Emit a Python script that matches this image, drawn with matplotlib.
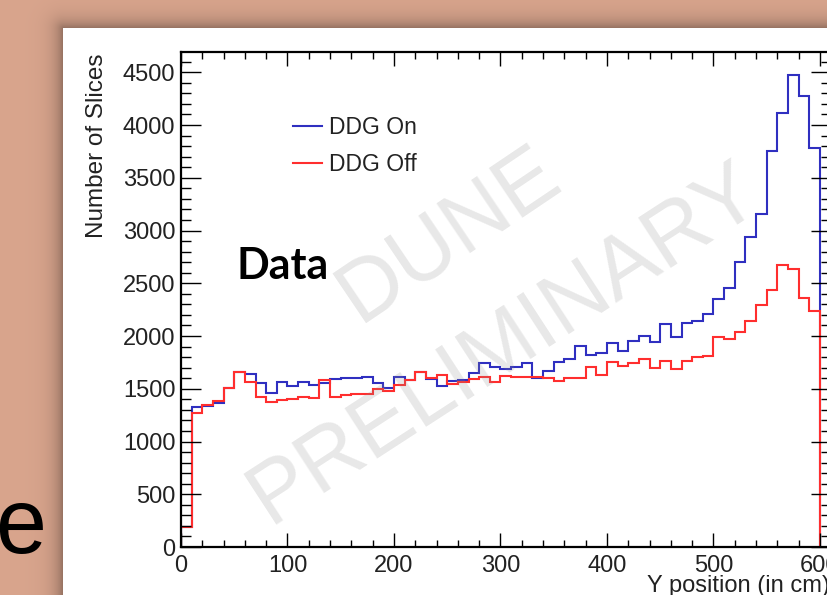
import numpy as np
import matplotlib
matplotlib.use("Agg")
import matplotlib.pyplot as plt
from matplotlib.ticker import MultipleLocator

# ---------------- data ----------------
bin_edges = np.arange(0, 601, 10)  # 60 bins of 10 cm

ddg_on = [190, 1330, 1340, 1362, 1504, 1656, 1637, 1558, 1463, 1567,
          1526, 1567, 1536, 1558, 1590, 1600, 1599, 1608, 1551, 1504,
          1608, 1583, 1662, 1593, 1526, 1574, 1583, 1653, 1747, 1709,
          1687, 1709, 1741, 1599, 1672, 1757, 1782, 1905, 1820, 1842,
          1931, 1858, 1956, 2000, 1940, 2114, 1988, 2120, 2142, 2209,
          2351, 2452, 2705, 2942, 3157, 3757, 4111, 4475, 4275, 3779]

ddg_off = [190, 1267, 1350, 1384, 1504, 1656, 1567, 1425, 1378, 1394,
           1403, 1425, 1410, 1583, 1419, 1440, 1450, 1450, 1495, 1480,
           1540, 1583, 1662, 1599, 1631, 1545, 1567, 1590, 1608, 1567,
           1621, 1615, 1608, 1612, 1599, 1574, 1599, 1599, 1703, 1631,
           1757, 1719, 1741, 1782, 1694, 1766, 1684, 1766, 1798, 1814,
           1988, 1969, 2035, 2146, 2294, 2436, 2673, 2635, 2364, 2240]

x_ticks = [0, 100, 200, 300, 400, 500, 600]
y_ticks = [0, 500, 1000, 1500, 2000, 2500, 3000, 3500, 4000, 4500]
series_labels = ["DDG On", "DDG Off"]

# ---------------- figure ----------------
W, H = 828, 595
fig = plt.figure(figsize=(W / 100, H / 100), dpi=100)
plt.rcParams["font.family"] = ["Liberation Sans", "DejaVu Sans"]

# slide background (salmon) + white panel with soft shadow
yy, xx = np.mgrid[0:H, 0:W]
px0, py0 = 63, 28
sal = np.array([217, 165, 141]) / 255.0
dx = np.clip(px0 - xx, 0, None)
dy = np.clip(py0 - yy, 0, None)
d = np.sqrt(dx ** 2 + dy ** 2)
shade = 0.33 * np.exp(-d / 9.0)
img = sal[None, None, :] * (1 - shade[..., None])
img[(xx >= px0) & (yy >= py0)] = 1.0
bgax = fig.add_axes([0, 0, 1, 1], zorder=-5)
bgax.imshow(img, aspect="auto", interpolation="bilinear")
bgax.set_axis_off()

# big cut-off slide letter
fig.text(46 / W, 1 - 553 / H, "e", fontsize=66, ha="right", va="baseline",
         color="black", family=["Liberation Sans", "DejaVu Sans"])

# main axes (frame extends slightly beyond the right edge)
x0_px, x1_px = 181, 830.6
ytop_px, ybot_px = 51.7, 547
ax = fig.add_axes([x0_px / W, (H - ybot_px) / H, (x1_px - x0_px) / W,
                   (ybot_px - ytop_px) / H])
ax.set_facecolor("white")
ax.set_xlim(0, 610)
ax.set_ylim(0, 4695)

ax.stairs(ddg_on, bin_edges, baseline=0, color="#2f2fc0", lw=1.5,
          label=series_labels[0])
ax.stairs(ddg_off, bin_edges, baseline=0, color="#ff2e2e", lw=1.5,
          label=series_labels[1])

ax.set_xticks(x_ticks)
ax.set_xticklabels([str(t) for t in x_ticks])
ax.set_yticks(y_ticks)
ax.set_yticklabels([str(t) for t in y_ticks])
ax.xaxis.set_minor_locator(MultipleLocator(20))
ax.yaxis.set_minor_locator(MultipleLocator(100))
ax.tick_params(which="both", direction="in", top=True, right=True,
               colors="black", labelcolor="#222222")
ax.tick_params(axis="y", which="major", length=14.4, width=1.0, pad=4.0,
               labelsize=17)
ax.tick_params(axis="y", which="minor", length=7.2, width=1.0)
ax.tick_params(axis="x", which="major", length=10, width=1.0, pad=6,
               labelsize=17)
ax.tick_params(axis="x", which="minor", length=5, width=1.0)
for s in ax.spines.values():
    s.set_linewidth(1.6)

# axis titles (ROOT style)
fig.text(97 / W, 1 - 54 / H, "Number of Slices", rotation=90, ha="center",
         va="top", fontsize=17.5, color="#222222")
fig.text(647 / W, 1 - 592 / H, "Y position (in cm)", ha="left",
         va="baseline", fontsize=17, color="#222222")

# legend
leg = ax.legend(loc="upper left", bbox_to_anchor=(293 / W, 1 - 116 / H),
                bbox_transform=fig.transFigure, frameon=False, fontsize=16.5,
                handlelength=1.25, handletextpad=0.3, labelspacing=0.62,
                borderpad=0, borderaxespad=0)
for t in leg.get_texts():
    t.set_color("#222222")

# "Data" label
fig.text(237 / W, 1 - 279 / H, "Data", family=["Lato", "DejaVu Sans"],
         fontweight="bold", fontsize=31, ha="left", va="baseline",
         color="black")

# watermark
fig.text(450 / W, 1 - 235 / H, "DUNE", rotation=34, rotation_mode="anchor",
         ha="center", va="center", fontsize=63, color="#8c8c8c", alpha=0.2,
         zorder=10)
fig.text(505 / W, 1 - 345 / H, "PRELIMINARY", rotation=33,
         rotation_mode="anchor", ha="center", va="center", fontsize=63,
         color="#8c8c8c", alpha=0.2, zorder=10)

fig.savefig("out.png", dpi=100)
